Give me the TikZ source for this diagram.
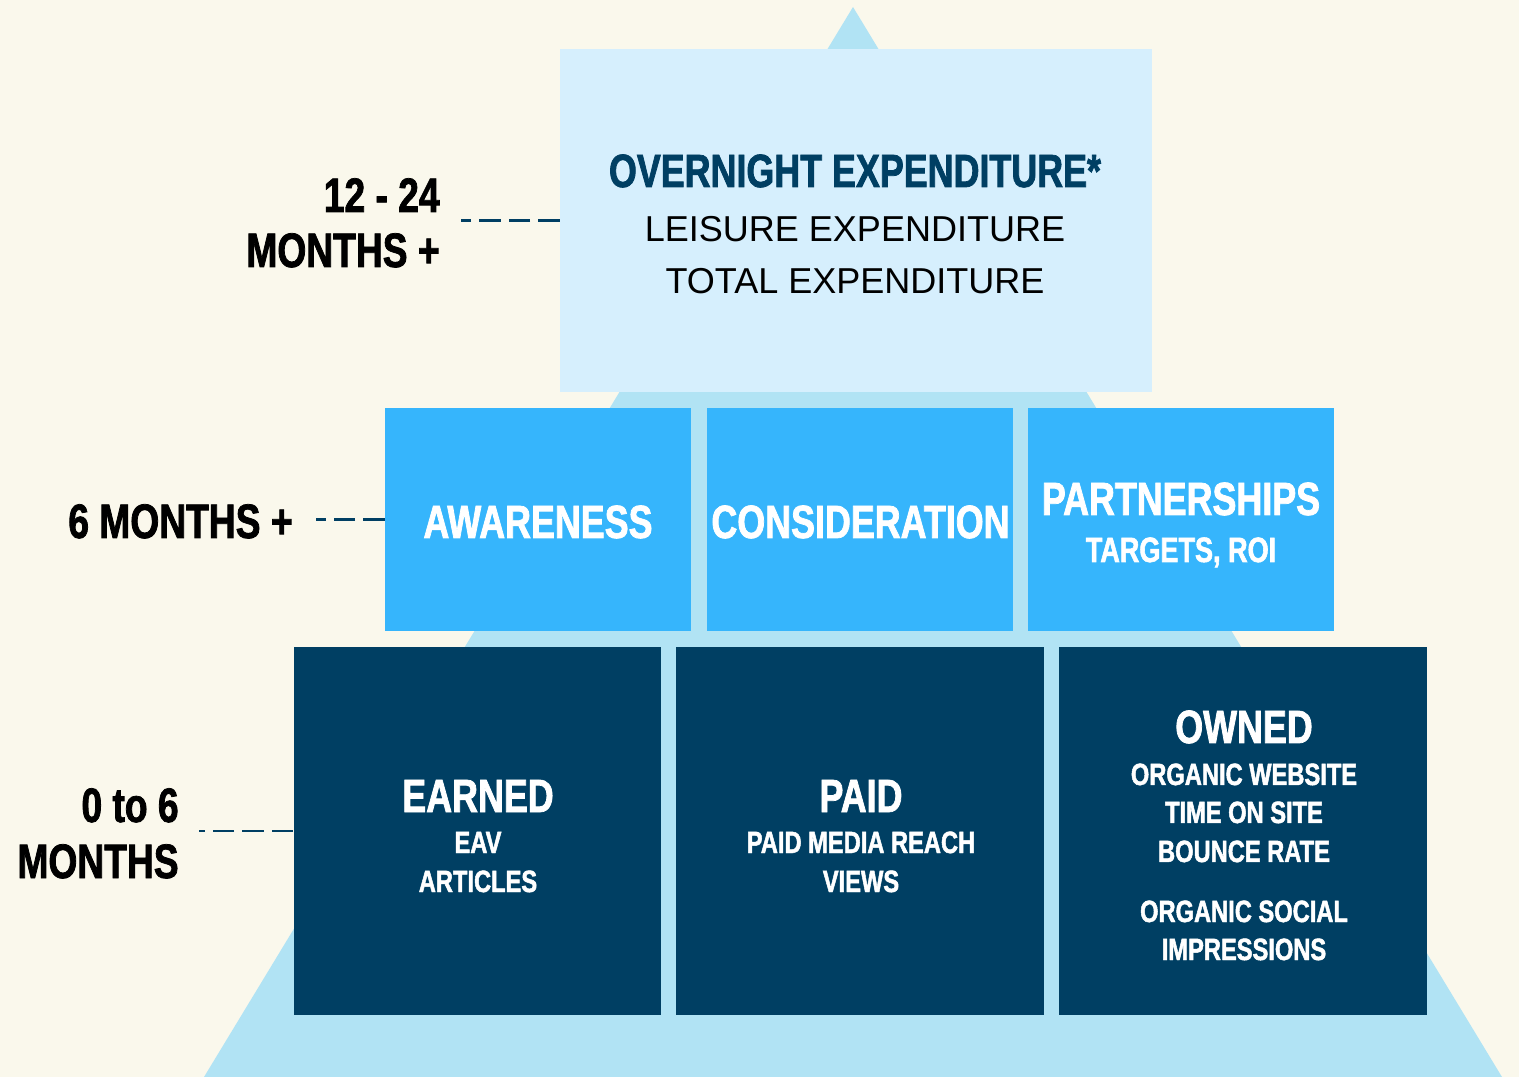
\documentclass[tikz,border=0pt]{standalone}
\usepackage{fontspec}
\setmainfont{Liberation Sans}
\newfontfamily\cond[FakeStretch=0.77, FakeBold=1.6]{Liberation Sans}
\definecolor{cream}{HTML}{FAF8EC}
\definecolor{pyr}{HTML}{B1E3F4}
\definecolor{pale}{HTML}{D6EFFD}
\definecolor{sky}{HTML}{36B5FC}
\definecolor{navy}{HTML}{003F63}
\tikzset{bx/.style  = {rectangle, inner sep=0pt, draw=none},
           tp/.style  = {bx, fill=pale, minimum width=11.84cm, minimum height=6.86cm},
           md/.style  = {bx, fill=sky,  minimum width=6.12cm,  minimum height=4.46cm},
           lo/.style  = {bx, fill=navy, minimum width=7.36cm,  minimum height=7.36cm},
           hd/.style  = {inner sep=0pt, anchor=base, text=white, font=\cond\bfseries\fontsize{26.5}{30}\selectfont},
           sb/.style  = {inner sep=0pt, anchor=base, text=white, font=\cond\bfseries\fontsize{17.5}{20}\selectfont},
           tx/.style  = {inner sep=0pt, anchor=base, font=\fontsize{20.5}{24}\selectfont},
           lab/.style = {inner sep=0pt, anchor=base east, font=\cond\bfseries\fontsize{27.5}{30}\selectfont},
           dl/.style  = {navy, line width=1.4pt, dash pattern=on 12.3pt off 4.5pt}}

\begin{document}
\begin{tikzpicture}[x=0.02cm, y=-0.02cm]
    % canvas and pyramid
    \fill[cream] (0,0) rectangle (1519,1077);
    \useasboundingbox (0,0) rectangle (1519,1077);
    \fill[pyr] (853,7) -- (204,1077) -- (1502,1077) -- cycle;
    % boxes
    \node[tp] (ovn)  at (856,220.5) {};
    \node[md] (aw)   at (538,519.5) {}; \node[md] (con)  at (860,519.5) {}; \node[md] (part) at (1181,519.5) {};
    \node[lo] (earn) at (477.5,831) {}; \node[lo] (paid) at (860,831) {};   \node[lo] (own)  at (1243,831) {};
    % texts in boxes
    \node[hd, text=navy] (t1) at (855,187) {OVERNIGHT EXPENDITURE*};
    \node[tx] (t2) at (855,242) {LEISURE EXPENDITURE};
    \node[tx] (t3) at (855,294) {TOTAL EXPENDITURE};
    \node[hd] (t4) at (538,538) {AWARENESS};
    \node[hd] (t5) at (860.5,538) {CONSIDERATION};
    \node[hd] (t6) at (1181,515) {PARTNERSHIPS};
    \node[sb, font=\cond\bfseries\fontsize{20}{24}\selectfont] (t7) at (1181,562) {TARGETS, ROI};
    \node[hd] (t8) at (478,812) {EARNED};
    \node[sb] (t9) at (478,853) {EAV};
    \node[sb] (t10) at (478,892) {ARTICLES};
    \node[hd] (t11) at (861,812) {PAID};
    \node[sb] (t12) at (861,853) {PAID MEDIA REACH};
    \node[sb] (t13) at (861,892) {VIEWS};
    \node[hd] (t14) at (1244,743) {OWNED};
    \node[sb] (t15) at (1244,785) {ORGANIC WEBSITE};
    \node[sb] (t16) at (1244,823) {TIME ON SITE};
    \node[sb] (t17) at (1244,862) {BOUNCE RATE};
    \node[sb] (t18) at (1244,922) {ORGANIC SOCIAL};
    \node[sb] (t19) at (1244,960) {IMPRESSIONS};
    % time labels
    \node[lab] (l1a) at (440,212) {12 - 24};
    \node[lab] (l1b) at (440,267) {MONTHS +};
    \node[lab] (l2)  at (293,538) {6 MONTHS +};
    \node[lab] (l3a) at (179,822) {0 to 6};
    \node[lab] (l3b) at (179,878) {MONTHS};
    \coordinate (d1) at (461,220.5);
    \coordinate (d2) at (316,519.5);
    \coordinate (d3) at (199,831);
    \draw[dl] (ovn.west) -- (d1);
    \draw[dl] (aw.west) -- (d2);
    \draw[dl] (earn.west) -- (d3);
\end{tikzpicture}
\end{document}
